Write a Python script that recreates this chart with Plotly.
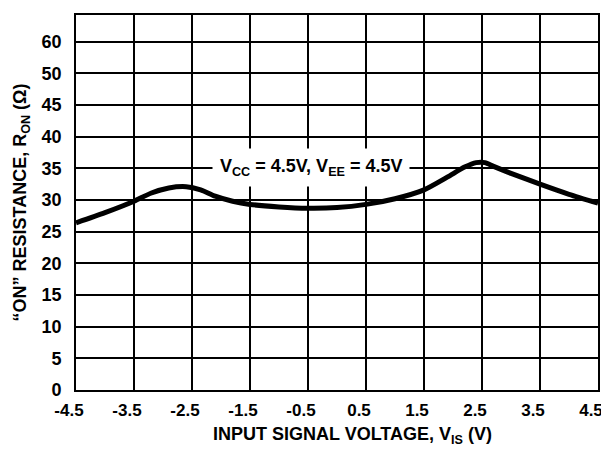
import plotly.graph_objects as go

# data
vis = [-4.5, -4.0, -3.5, -3.2, -2.9, -2.6, -2.35, -2.1, -1.8, -1.5, -1.0, -0.5, 0.0, 0.5, 1.0, 1.5, 1.9, 2.2, 2.4, 2.55, 2.7, 3.0, 3.5, 4.0, 4.5]
ron = [26.4, 28.0, 29.8, 31.1, 31.9, 32.1, 31.6, 30.6, 29.8, 29.3, 28.9, 28.7, 28.8, 29.3, 30.2, 31.6, 33.6, 35.2, 35.9, 35.9, 35.3, 34.2, 32.5, 30.9, 29.5]
x_ticks = [-4.5, -3.5, -2.5, -1.5, -0.5, 0.5, 1.5, 2.5, 3.5, 4.5]
y_tick_pos = [0, 5, 10, 15, 20, 25, 30, 35, 40, 45, 50, 55]
y_tick_text = ["0", "5", "10", "15", "20", "25", "30", "35", "40", "45", "50", "60"]

font = "Liberation Sans, Arial, sans-serif"

fig = go.Figure()
fig.add_trace(go.Scatter(x=vis, y=ron, mode="lines",
                         line=dict(color="black", width=5, shape="spline", smoothing=0.7),
                         showlegend=False, hoverinfo="skip"))

fig.add_annotation(x=-0.45, y=35.1, text="<b>V<sub>CC</sub> = 4.5V, V<sub>EE</sub> = 4.5V</b>",
                   showarrow=False, bgcolor="white", borderpad=7,
                   font=dict(family=font, size=18, color="black"))

# x-axis title (placed slightly right of centre, as in the reference)
fig.add_annotation(xref="paper", yref="paper", x=0.53, y=-0.122, xanchor="center", yanchor="middle",
                   text="<b>INPUT SIGNAL VOLTAGE, V<sub>IS</sub> (V)</b>", showarrow=False,
                   font=dict(family=font, size=18, color="black"))

fig.update_layout(
    width=609, height=441,
    margin=dict(l=68, r=19, t=5, b=59),
    paper_bgcolor="white", plot_bgcolor="white",
    font=dict(family=font, size=17, color="black"),
    xaxis=dict(range=[-4.5, 4.5], tickvals=x_ticks, ticktext=[f"<b>{v:g}</b>" for v in x_ticks],
               tickfont=dict(family=font, size=17, color="black"),
               showgrid=True, gridcolor="black", gridwidth=1.5,
               showline=True, linecolor="black", linewidth=1.6, mirror=True,
               zeroline=False, ticks="", ticklabelstandoff=4, ticklabelshift=-7),
    yaxis=dict(range=[0, 59.2], tickvals=y_tick_pos, ticktext=[f"<b>{t}</b>" for t in y_tick_text],
               tickfont=dict(family=font, size=18, color="black"),
               showgrid=True, gridcolor="black", gridwidth=1.5,
               showline=True, linecolor="black", linewidth=1.6, mirror=True,
               zeroline=False, ticks="", ticklabelstandoff=9,
               title=dict(text="<b>“ON” RESISTANCE, R<sub>ON</sub> (Ω)</b>",
                          font=dict(family=font, size=18, color="black"), standoff=10)),
)

fig.write_html("out.html")
